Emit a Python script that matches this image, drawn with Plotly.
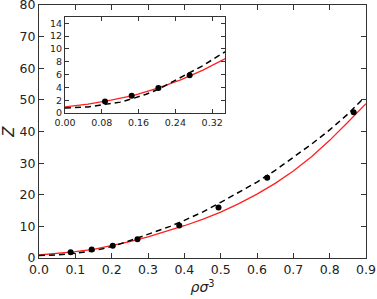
import plotly.graph_objects as go

# Red solid curve
red_x = [0.0, 0.05, 0.1, 0.15, 0.2, 0.25, 0.3, 0.35, 0.4, 0.45, 0.5, 0.55, 0.6, 0.65, 0.7, 0.75, 0.8, 0.85, 0.9]
red_z = [0.95, 1.4, 2.0, 2.75, 3.85, 5.15, 6.7, 8.4, 10.2, 12.2, 14.5, 17.2, 20.2, 23.6, 27.5, 32.0, 37.2, 42.9, 48.8]

# Black dashed curve
dash_x = [0.0, 0.05, 0.087, 0.12, 0.145, 0.175, 0.203, 0.236, 0.271, 0.3, 0.338, 0.361, 0.4, 0.45, 0.5, 0.55, 0.6, 0.65, 0.7, 0.75, 0.8, 0.85, 0.889]
dash_z = [0.8, 0.95, 1.35, 1.7, 2.2, 2.9, 3.7, 4.9, 6.3, 7.4, 9.0, 10.0, 11.9, 14.5, 17.6, 20.7, 24.0, 27.7, 31.8, 36.0, 40.5, 45.5, 50.0]

# Simulation points
pt_x = [0.087, 0.145, 0.203, 0.271, 0.386, 0.494, 0.628, 0.866]
pt_z = [1.8, 2.7, 3.9, 5.9, 10.3, 16.0, 25.4, 46.1]

main_xticks = [0.0, 0.1, 0.2, 0.3, 0.4, 0.5, 0.6, 0.7, 0.8, 0.9]
main_yticks = [0, 10, 20, 30, 40, 50, 60, 70, 80]
inset_xticks = [0.0, 0.08, 0.16, 0.24, 0.32]
inset_yticks = [0, 2, 4, 6, 8, 10, 12, 14]

font = "DejaVu Sans"
spine = "#333333"

fig = go.Figure()
for xa, ya in (("x", "y"), ("x2", "y2")):
    fig.add_trace(go.Scatter(x=red_x, y=red_z, mode="lines", xaxis=xa, yaxis=ya,
                             line=dict(color="#ff2020", width=1.3), showlegend=False))
    fig.add_trace(go.Scatter(x=dash_x, y=dash_z, mode="lines", xaxis=xa, yaxis=ya,
                             line=dict(color="black", width=1.5, dash="6px,4px"), showlegend=False))
    fig.add_trace(go.Scatter(x=pt_x, y=pt_z, mode="markers", xaxis=xa, yaxis=ya,
                             marker=dict(color="black", size=6), showlegend=False))

axcommon = dict(showline=True, linecolor=spine, linewidth=1.2, mirror="ticks", ticks="inside",
                tickcolor=spine, showgrid=False, zeroline=False, automargin=False,
                ticklabeloverflow="allow")

fig.update_layout(
    width=377, height=299,
    margin=dict(l=39, r=11, t=5, b=41),
    paper_bgcolor="white", plot_bgcolor="white",
    font=dict(family=font, color="#222222"),
    xaxis=dict(domain=[0, 1], range=[0, 0.9], tickvals=main_xticks,
               ticktext=[f"{v:.1f}" for v in main_xticks], ticklen=5,
               tickfont=dict(size=12.5),
               title=dict(text="<i>ρσ</i><sup>3</sup>", font=dict(size=14), standoff=6),
               **axcommon),
    yaxis=dict(domain=[0, 1], range=[0, 80], tickvals=main_yticks, ticklen=5,
               tickfont=dict(size=12.5),
               title=dict(text="<i>Z</i>", font=dict(size=15), standoff=6),
               **axcommon),
    xaxis2=dict(domain=[0.0795, 0.569], range=[0, 0.348], anchor="y2", tickvals=inset_xticks,
                ticktext=[f"{v:.2f}" for v in inset_xticks], ticklen=4,
                tickfont=dict(size=9.5), **axcommon),
    yaxis2=dict(domain=[0.573, 0.953], range=[0, 15], anchor="x2", tickvals=inset_yticks,
                ticklen=4, tickfont=dict(size=9.5), **axcommon),
)

fig.write_html("out.html", config={"displayModeBar": False},
               post_script="document.body.style.margin='0';document.body.style.overflow='hidden';")
